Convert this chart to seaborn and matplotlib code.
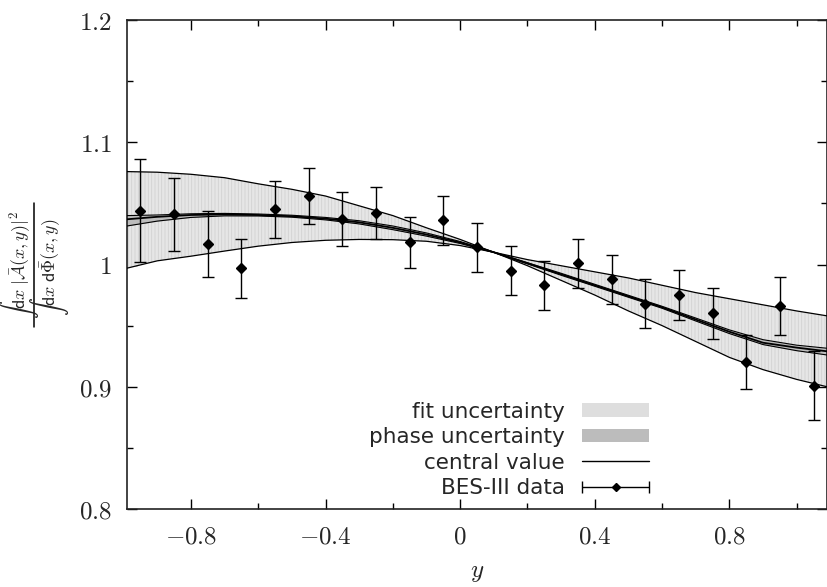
import numpy as np
import pandas as pd
import matplotlib
matplotlib.use("Agg")
import matplotlib.pyplot as plt
import seaborn as sns
from matplotlib.patches import Patch
from matplotlib.lines import Line2D
from matplotlib.legend_handler import HandlerErrorbar
from matplotlib.ticker import FixedLocator, FuncFormatter

# ---------------- data ----------------
data_y = [-0.95, -0.85, -0.75, -0.65, -0.55, -0.45, -0.35, -0.25, -0.15, -0.05,
          0.05, 0.15, 0.25, 0.35, 0.45, 0.55, 0.65, 0.75, 0.85, 0.95, 1.05]
data_val = [1.044, 1.041, 1.017, 0.997, 1.045, 1.056, 1.037, 1.042, 1.018, 1.036,
            1.014, 0.995, 0.983, 1.001, 0.988, 0.968, 0.975, 0.960, 0.920, 0.966, 0.901]
data_err = [0.042, 0.030, 0.027, 0.024, 0.023, 0.023, 0.022, 0.021, 0.021, 0.020,
            0.020, 0.020, 0.020, 0.020, 0.020, 0.020, 0.0205, 0.021, 0.022, 0.0236, 0.028]

curve_y = [-0.99, -0.9, -0.8, -0.7, -0.6, -0.5, -0.4, -0.3, -0.2, -0.1, 0.0,
           0.1, 0.2, 0.3, 0.4, 0.5, 0.6, 0.7, 0.8, 0.9, 1.0, 1.09]
fit_edge_a = [1.076, 1.0755, 1.0738, 1.071, 1.066, 1.0615, 1.056, 1.048, 1.040, 1.030, 1.0205,
              1.010, 0.999, 0.987, 0.975, 0.962, 0.950, 0.937, 0.924, 0.914, 0.906, 0.900]
fit_edge_b = [0.997, 1.003, 1.0068, 1.011, 1.015, 1.018, 1.0198, 1.0205, 1.0203, 1.0190, 1.0155,
              1.010, 1.004, 0.999, 0.994, 0.989, 0.983, 0.977, 0.972, 0.967, 0.962, 0.958]
central = [1.037, 1.039, 1.0405, 1.041, 1.0405, 1.0395, 1.0375, 1.0345, 1.030, 1.0245, 1.018,
           1.010, 1.001, 0.992, 0.983, 0.974, 0.965, 0.955, 0.945, 0.936, 0.932, 0.929]
phase_hi = [1.040, 1.0405, 1.0415, 1.0418, 1.0413, 1.0403, 1.0385, 1.0358, 1.0315, 1.0258, 1.0188,
            1.0102, 1.0015, 0.9928, 0.9838, 0.9748, 0.9658, 0.9562, 0.9465, 0.9385, 0.9340, 0.9315]
phase_lo = [1.0315, 1.0355, 1.0385, 1.0398, 1.0397, 1.0387, 1.0365, 1.0332, 1.0285, 1.0232, 1.0172,
            1.0098, 1.0005, 0.9912, 0.9822, 0.9732, 0.9642, 0.9538, 0.9435, 0.9345, 0.9295, 0.9260]

x_major = [-0.8, -0.4, 0.0, 0.4, 0.8]
x_minor = [-0.6, -0.2, 0.2, 0.6, 1.0]
y_major = [0.8, 0.9, 1.0, 1.1, 1.2]
y_minor = [0.85, 0.95, 1.05, 1.15]

legend_labels = ["fit uncertainty", "phase uncertainty", "central value", "BES-III data"]
ylabel_num = r"$\int \mathsf{d}x\;|\bar{\mathcal{A}}(x,y)|^2$"
ylabel_den = r"$\int \mathsf{d}x\;\mathsf{d}\bar{\Phi}(x,y)$"

# ---------------- style ----------------
sns.set_theme(style="ticks")
plt.rcParams["font.family"] = ["DejaVu Sans"]
plt.rcParams["mathtext.fontset"] = "cm"
plt.rcParams["hatch.linewidth"] = 0.6

W, H = 828, 587
fig = plt.figure(figsize=(W / 100, H / 100), dpi=100)
ax = fig.add_axes([127 / W, 1 - 509 / H, 700 / W, 489 / H])

curves = pd.DataFrame({"y": curve_y, "a": fit_edge_a, "b": fit_edge_b, "c": central,
                       "phi": phase_hi, "plo": phase_lo})

# fit uncertainty band
ax.fill_between(curves["y"], curves["a"], curves["b"], facecolor="#e6e6e6",
                edgecolor="#d2d2d2", hatch="|||||", linewidth=0, zorder=1)
# phase uncertainty band
ax.fill_between(curves["y"], curves["plo"], curves["phi"], facecolor="#bcbcbc",
                linewidth=0, zorder=2)

for col, lw in [("a", 0.9), ("b", 0.9), ("phi", 0.8), ("plo", 0.8), ("c", 1.3)]:
    sns.lineplot(data=curves, x="y", y=col, ax=ax, color="black", linewidth=lw,
                 estimator=None, sort=False, zorder=3)

ax.errorbar(data_y, data_val, yerr=data_err, fmt="D", color="black", markersize=5,
            ecolor="black", elinewidth=1.0, capsize=4, capthick=1.0, zorder=5)

# legend proxy for the data (horizontal bar with caps, as in the key)
eb_key = ax.errorbar([np.nan], [np.nan], xerr=[1.0], fmt="D", color="black", markersize=4,
                     ecolor="black", elinewidth=1.0, capsize=4, capthick=1.0)

# ---------------- axes ----------------
ax.set_xlim(-0.99, 1.09)
ax.set_ylim(0.8, 1.2)
ax.xaxis.set_major_locator(FixedLocator(x_major))
ax.xaxis.set_minor_locator(FixedLocator(x_minor))
ax.yaxis.set_major_locator(FixedLocator(y_major))
ax.yaxis.set_minor_locator(FixedLocator(y_minor))
fmt = FuncFormatter(lambda v, p: r"$%g$" % round(v, 2))
ax.xaxis.set_major_formatter(fmt)
ax.yaxis.set_major_formatter(fmt)
ax.tick_params(which="both", direction="in", top=True, right=True, color="black", width=1.0)
ax.tick_params(which="major", length=7, labelsize=18)
ax.tick_params(axis="x", which="major", pad=11)
ax.tick_params(axis="y", which="major", pad=11)
ax.tick_params(which="minor", length=4)
for s in ax.spines.values():
    s.set_linewidth(1.2)
    s.set_color("#222222")

ax.set_xlabel(r"$y$", fontsize=18)
ax.xaxis.set_label_coords(0.5, -0.105)
ax.set_ylabel("")

# y-axis label as a hand-set fraction (rotated numerator / bar / denominator)
fig.text(19.5 / W, 1 - 265 / H, ylabel_num, rotation=90, ha="center", va="center", fontsize=13)
fig.text(49.5 / W, 1 - 267 / H, ylabel_den, rotation=90, ha="center", va="center", fontsize=13)
fig.add_artist(Line2D([34.5 / W, 34.5 / W], [1 - 203 / H, 1 - 327 / H],
                      transform=fig.transFigure, color="black", linewidth=1.1))

# ---------------- legend ----------------
h_fit = Patch(facecolor="#dedede", edgecolor="none")
h_phase = Patch(facecolor="#bcbcbc", edgecolor="none")
h_central = Line2D([], [], color="black", linewidth=1.0)
leg = ax.legend([h_fit, h_phase, h_central, eb_key], legend_labels,
                handler_map={type(eb_key): HandlerErrorbar(xerr_size=1.55)},
                loc="lower right", bbox_to_anchor=(649 / W, 1 - 498 / H),
                bbox_transform=fig.transFigure, frameon=False, markerfirst=False,
                fontsize=15.5, handlelength=3.1, handleheight=0.6, handletextpad=0.8,
                labelspacing=0.25, borderpad=0, borderaxespad=0)

fig.savefig("out.png", dpi=100)
